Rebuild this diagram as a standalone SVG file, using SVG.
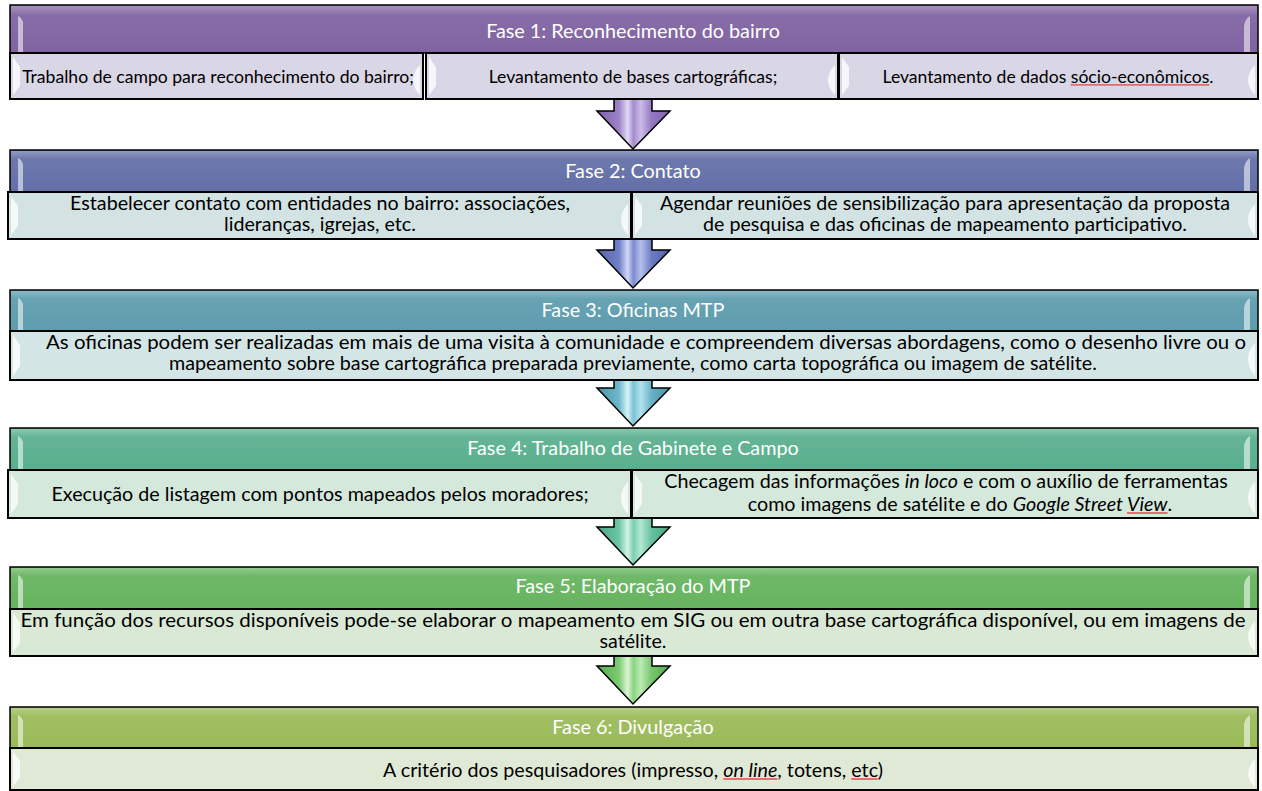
<svg xmlns="http://www.w3.org/2000/svg" width="1262" height="791" viewBox="0 0 1262 791">
<defs>
  <linearGradient id="hdrShine" x1="0" y1="0" x2="0" y2="1">
    <stop offset="0" stop-color="#fff" stop-opacity="0.3"/>
    <stop offset="0.2" stop-color="#fff" stop-opacity="0.06"/>
    <stop offset="1" stop-color="#fff" stop-opacity="0"/>
  </linearGradient>
  <linearGradient id="a1" gradientUnits="userSpaceOnUse" x1="597" y1="0" x2="670" y2="0">
    <stop offset="0" stop-color="#7e62aa"/><stop offset="0.3" stop-color="#9b82c6"/><stop offset="0.42" stop-color="#e2d8f6"/><stop offset="0.5" stop-color="#a48ccd"/><stop offset="0.6" stop-color="#cbbcea"/><stop offset="0.75" stop-color="#9478c2"/><stop offset="1" stop-color="#7e62aa"/>
  </linearGradient>
  <linearGradient id="a2" gradientUnits="userSpaceOnUse" x1="597" y1="0" x2="670" y2="0">
    <stop offset="0" stop-color="#5563a8"/><stop offset="0.3" stop-color="#6f7fc8"/><stop offset="0.42" stop-color="#d2d8f6"/><stop offset="0.5" stop-color="#7d8cd0"/><stop offset="0.6" stop-color="#b6c0ec"/><stop offset="0.75" stop-color="#6a7bc4"/><stop offset="1" stop-color="#5563a8"/>
  </linearGradient>
  <linearGradient id="a3" gradientUnits="userSpaceOnUse" x1="597" y1="0" x2="670" y2="0">
    <stop offset="0" stop-color="#4d93a6"/><stop offset="0.3" stop-color="#6cb8cc"/><stop offset="0.42" stop-color="#d6f2f8"/><stop offset="0.5" stop-color="#7cc2d4"/><stop offset="0.6" stop-color="#b4e2ee"/><stop offset="0.75" stop-color="#66b2c6"/><stop offset="1" stop-color="#4d93a6"/>
  </linearGradient>
  <linearGradient id="a4" gradientUnits="userSpaceOnUse" x1="597" y1="0" x2="670" y2="0">
    <stop offset="0" stop-color="#4aa682"/><stop offset="0.3" stop-color="#6cc6a4"/><stop offset="0.42" stop-color="#d4f4e6"/><stop offset="0.5" stop-color="#7ccfae"/><stop offset="0.6" stop-color="#b2e8d2"/><stop offset="0.75" stop-color="#66c09e"/><stop offset="1" stop-color="#4aa682"/>
  </linearGradient>
  <linearGradient id="a5" gradientUnits="userSpaceOnUse" x1="597" y1="0" x2="670" y2="0">
    <stop offset="0" stop-color="#58aa50"/><stop offset="0.3" stop-color="#7ccb72"/><stop offset="0.42" stop-color="#daf4d4"/><stop offset="0.5" stop-color="#8ad480"/><stop offset="0.6" stop-color="#bcebb4"/><stop offset="0.75" stop-color="#76c46c"/><stop offset="1" stop-color="#58aa50"/>
  </linearGradient>
</defs>
<style>
  .hdr { stroke: #000; stroke-width: 1.5; }
  .shine { fill: url(#hdrShine); }
  .box { stroke: #000; stroke-width: 2; }
  .bev { fill: #ffffff; fill-opacity: 0.75; }
  .hbev { fill: #ffffff; fill-opacity: 0.55; }
  .arrow { stroke: #000; stroke-width: 1.5; stroke-linejoin: miter; }
  .ht { font-family: Lato, "Liberation Sans", sans-serif; font-size: 19.8px; fill: #ffffff; text-anchor: middle; }
  .st { font-family: Lato, "Liberation Sans", sans-serif; font-size: 19.7px; fill: #000000; text-anchor: middle; }
  .s1 { font-size: 17.6px; }
  .it { font-style: italic; }
  .sp { fill: #e07070; text-decoration: underline; }
  .k { fill: #000000; }
</style>

<g id="connectors">
  <path class="arrow" fill="url(#a1)" d="M614,99 L652,99 L652,111 L670,111 L633,149 L597,111 L614,111 Z"/>
  <path class="arrow" fill="url(#a2)" d="M614,239 L652,239 L652,250 L670,250 L633,288 L597,250 L614,250 Z"/>
  <path class="arrow" fill="url(#a3)" d="M614,380 L652,380 L652,388 L670,388 L633,426 L597,388 L614,388 Z"/>
  <path class="arrow" fill="url(#a4)" d="M614,518 L652,518 L652,527 L670,527 L633,565 L597,527 L614,527 Z"/>
  <path class="arrow" fill="url(#a5)" d="M614,656 L652,656 L652,666 L670,666 L633,704 L597,666 L614,666 Z"/>
</g>

<!-- Fase 1 -->
<g id="fase1">
  <rect class="hdr" x="10" y="5" width="1248" height="48" fill="#8064a2"/>
  <rect class="shine" x="11" y="6" width="1246" height="46"/>
  <path class="hbev" d="M18,16 Q21,17 23,22 L23,53 L18,53 Z"/>
  <path class="hbev" d="M1250,16 Q1245,19 1244,26 L1244,53 L1250,53 Z"/>
  <text class="ht" x="633" y="38">Fase 1: Reconhecimento do bairro</text>
</g>
<g id="fase1-a">
  <rect class="box" x="10" y="53" width="413" height="46" fill="#d9d6e5"/>
  <path class="bev" d="M13,57 L20,67 L20,86 L13,95 Z"/>
  <path class="bev" d="M420,65 Q413,72 413,80 Q413,88 420,95 Z"/>
  <text class="st s1" x="218" y="83">Trabalho de campo para reconhecimento do bairro;</text>
</g>
<g id="fase1-b">
  <rect class="box" x="426" y="53" width="412" height="46" fill="#d9d6e5"/>
  <path class="bev" d="M429,57 L436,67 L436,86 L429,95 Z"/>
  <path class="bev" d="M835,65 Q828,72 828,80 Q828,88 835,95 Z"/>
  <text class="st s1" x="633" y="83">Levantamento de bases cartográficas;</text>
</g>
<g id="fase1-c">
  <rect class="box" x="839" y="53" width="419" height="46" fill="#d9d6e5"/>
  <path class="bev" d="M842,57 L849,67 L849,86 L842,95 Z"/>
  <path class="bev" d="M1255,65 Q1248,72 1248,80 Q1248,88 1255,95 Z"/>
  <text class="st s1" x="1048" y="83">Levantamento de dados <tspan class="sp"><tspan class="k">sócio-econômicos</tspan></tspan>.</text>
</g>

<!-- Fase 2 -->
<g id="fase2">
  <rect class="hdr" x="10" y="150" width="1248" height="42" fill="#6370a8"/>
  <rect class="shine" x="11" y="151" width="1246" height="40"/>
  <path class="hbev" d="M18,158 Q21,159 23,164 L23,192 L18,192 Z"/>
  <path class="hbev" d="M1250,158 Q1245,161 1244,168 L1244,192 L1250,192 Z"/>
  <text class="ht" x="633" y="178">Fase 2: Contato</text>
</g>
<g id="fase2-a">
  <rect class="box" x="8" y="192" width="623" height="47" fill="#d3e3e3"/>
  <path class="bev" d="M11,196 L18,206 L18,226 L11,235 Z"/>
  <path class="bev" d="M628,204 Q621,211 621,220 Q621,228 628,235 Z"/>
  <text class="st" x="320" y="210">Estabelecer contato com entidades no bairro: associações,</text>
  <text class="st" x="320" y="231">lideranças, igrejas, etc.</text>
</g>
<g id="fase2-b">
  <rect class="box" x="632" y="192" width="626" height="47" fill="#d3e3e3"/>
  <path class="bev" d="M635,196 L642,206 L642,226 L635,235 Z"/>
  <path class="bev" d="M1255,204 Q1248,211 1248,220 Q1248,228 1255,235 Z"/>
  <text class="st" x="945" y="210">Agendar reuniões de sensibilização para apresentação da proposta</text>
  <text class="st" x="945" y="231">de pesquisa e das oficinas de mapeamento participativo.</text>
</g>

<!-- Fase 3 -->
<g id="fase3">
  <rect class="hdr" x="10" y="290" width="1248" height="41" fill="#5e9dae"/>
  <rect class="shine" x="11" y="291" width="1246" height="39"/>
  <path class="hbev" d="M18,298 Q21,299 23,304 L23,331 L18,331 Z"/>
  <path class="hbev" d="M1250,298 Q1245,301 1244,308 L1244,331 L1250,331 Z"/>
  <text class="ht" x="633" y="317">Fase 3: Oficinas MTP</text>
</g>
<g id="fase3-a">
  <rect class="box" x="10" y="331" width="1248" height="49" fill="#d4e5e5"/>
  <path class="bev" d="M13,335 L20,345 L20,366 L13,376 Z"/>
  <path class="bev" d="M1255,343 Q1248,350 1248,359 Q1248,368 1255,376 Z"/>
  <text class="st" x="646" y="349" textLength="1200" lengthAdjust="spacingAndGlyphs">As oficinas podem ser realizadas em mais de uma visita à comunidade e compreendem diversas abordagens, como o desenho livre ou o</text>
  <text class="st" x="633" y="370">mapeamento sobre base cartográfica preparada previamente, como carta topográfica ou imagem de satélite.</text>
</g>

<!-- Fase 4 -->
<g id="fase4">
  <rect class="hdr" x="10" y="428" width="1248" height="42" fill="#5ab08e"/>
  <rect class="shine" x="11" y="429" width="1246" height="40"/>
  <path class="hbev" d="M18,436 Q21,437 23,442 L23,470 L18,470 Z"/>
  <path class="hbev" d="M1250,436 Q1245,439 1244,446 L1244,470 L1250,470 Z"/>
  <text class="ht" x="633" y="455">Fase 4: Trabalho de Gabinete e Campo</text>
</g>
<g id="fase4-a">
  <rect class="box" x="8" y="470" width="623" height="48" fill="#d5e8dc"/>
  <path class="bev" d="M11,474 L18,484 L18,504 L11,514 Z"/>
  <path class="bev" d="M628,482 Q621,489 621,498 Q621,507 628,514 Z"/>
  <text class="st" x="320" y="501">Execução de listagem com pontos mapeados pelos moradores;</text>
</g>
<g id="fase4-b">
  <rect class="box" x="632" y="470" width="626" height="48" fill="#d5e8dc"/>
  <path class="bev" d="M635,474 L642,484 L642,504 L635,514 Z"/>
  <path class="bev" d="M1255,482 Q1248,489 1248,498 Q1248,507 1255,514 Z"/>
  <text class="st" x="946" y="488">Checagem das informações <tspan class="it">in loco</tspan> e com o auxílio de ferramentas</text>
  <text class="st" x="960" y="511">como imagens de satélite e do <tspan class="it">Google Street </tspan><tspan class="it sp"><tspan class="k">View</tspan></tspan>.</text>
</g>

<!-- Fase 5 -->
<g id="fase5">
  <rect class="hdr" x="10" y="567" width="1248" height="42" fill="#66b45f"/>
  <rect class="shine" x="11" y="568" width="1246" height="40"/>
  <path class="hbev" d="M18,575 Q21,576 23,581 L23,609 L18,609 Z"/>
  <path class="hbev" d="M1250,575 Q1245,578 1244,585 L1244,609 L1250,609 Z"/>
  <text class="ht" x="633" y="593">Fase 5: Elaboração do MTP</text>
</g>
<g id="fase5-a">
  <rect class="box" x="10" y="609" width="1248" height="47" fill="#dae9d6"/>
  <path class="bev" d="M13,613 L20,623 L20,643 L13,652 Z"/>
  <path class="bev" d="M1255,621 Q1248,628 1248,637 Q1248,645 1255,652 Z"/>
  <text class="st" x="633" y="627" textLength="1225" lengthAdjust="spacingAndGlyphs">Em função dos recursos disponíveis pode-se elaborar o mapeamento em SIG ou em outra base cartográfica disponível, ou em imagens de</text>
  <text class="st" x="633" y="648">satélite.</text>
</g>

<!-- Fase 6 -->
<g id="fase6">
  <rect class="hdr" x="10" y="707" width="1248" height="41" fill="#9bbb59"/>
  <rect class="shine" x="11" y="708" width="1246" height="39"/>
  <path class="hbev" d="M18,715 Q21,716 23,721 L23,748 L18,748 Z"/>
  <path class="hbev" d="M1250,715 Q1245,718 1244,725 L1244,748 L1250,748 Z"/>
  <text class="ht" x="633" y="734">Fase 6: Divulgação</text>
</g>
<g id="fase6-a">
  <rect class="box" x="10" y="748" width="1248" height="42" fill="#e0e9d6"/>
  <path class="bev" d="M13,752 L20,761 L20,778 L13,786 Z"/>
  <path class="bev" d="M1255,759 Q1248,766 1248,774 Q1248,781 1255,787 Z"/>
  <text class="st" x="633" y="777">A critério dos pesquisadores (impresso, <tspan class="it sp"><tspan class="k">on line</tspan></tspan>, totens, <tspan class="sp"><tspan class="k">etc</tspan></tspan>)</text>
</g>
</svg>
